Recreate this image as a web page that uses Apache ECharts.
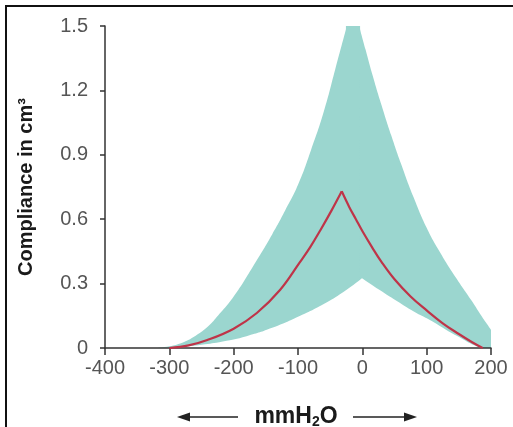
<!DOCTYPE html>
<html>
<head>
<meta charset="utf-8">
<script src="https://cdn.jsdelivr.net/npm/echarts@6/dist/echarts.min.js"></script>
<style>
html,body{margin:0;padding:0;background:#fff;}
#chart{width:513px;height:427px;}
</style>
</head>
<body>
<div id="chart"></div>
<script>
// Tick labels
var xTicks = [-400, -300, -200, -100, 0, 100, 200];
var yTicks = [0, 0.3, 0.6, 0.9, 1.2, 1.5];

// Upper boundary of the shaded range (rising side, flat top, falling side)
var upperLeftX = [-320, -300, -280, -263, -240, -226, -200, -170, -140, -120, -100, -80, -60, -42, -24];
var upperLeftY = [0, 0.008, 0.025, 0.05, 0.10, 0.145, 0.24, 0.38, 0.53, 0.64, 0.76, 0.92, 1.10, 1.30, 1.5];
var upperTopX = [-25.5, -3.5];
var upperTopY = [1.5, 1.5];
var upperRightX = [-5, 5, 15, 30, 45, 60, 80, 100, 120, 145, 170, 185, 200];
var upperRightY = [1.5, 1.39, 1.28, 1.13, 0.99, 0.86, 0.70, 0.56, 0.45, 0.33, 0.22, 0.15, 0.085];

// Lower boundary of the shaded range
var lowerLeftX = [-320, -280, -250, -217, -180, -139, -100, -60, -30, -0.5];
var lowerLeftY = [0, 0.006, 0.015, 0.03, 0.055, 0.095, 0.145, 0.205, 0.26, 0.325];
var lowerRightX = [-0.5, 27, 53, 80, 105, 130, 157, 175, 190, 200];
var lowerRightY = [0.325, 0.27, 0.22, 0.17, 0.13, 0.085, 0.04, 0.012, 0, 0];

// Mean compliance curve (left and right branches meet at the peak)
var meanLeftX = [-300, -270, -241, -200, -164, -128, -97, -81, -65, -48, -32];
var meanLeftY = [0, 0.012, 0.037, 0.09, 0.163, 0.27, 0.40, 0.47, 0.55, 0.64, 0.73];
var meanRightX = [-32, -20, -10, 0, 15, 30, 50, 75, 100, 125, 150, 170, 187];
var meanRightY = [0.73, 0.655, 0.60, 0.545, 0.47, 0.40, 0.32, 0.24, 0.175, 0.115, 0.065, 0.028, 0];

function pairs(xs, ys) { return xs.map(function (x, i) { return [x, ys[i]]; }); }

var chart = echarts.init(document.getElementById('chart'), null, {renderer: 'canvas'});
var axisColor = '#333';
var labelColor = '#555';
var teal = '#9bd6cf';
var red = '#bf3448';
var font = '"Liberation Sans", Arial, sans-serif';

function area(name, xs, ys, color, z) {
  return {
    type: 'line', name: name, z: z, smooth: 0.5, symbol: 'none', silent: true,
    data: pairs(xs, ys),
    lineStyle: {width: 0},
    areaStyle: {color: color, opacity: 1, origin: 'start'}
  };
}

var option = {
  animation: false,
  backgroundColor: '#fff',
  grid: {left: 105, right: 22, top: 26, bottom: 79, containLabel: false, outerBoundsMode: 'none'},
  xAxis: {
    type: 'value', min: -400, max: 200, interval: 100, z: 10,
    axisLine: {show: true, onZero: false, lineStyle: {color: axisColor, width: 1.5}},
    axisTick: {show: true, length: 7, lineStyle: {color: axisColor, width: 1.5}},
    splitLine: {show: false},
    axisLabel: {color: labelColor, fontSize: 20, fontFamily: font, margin: 10,
      formatter: function (v) { return xTicks.indexOf(v) >= 0 ? String(v) : ''; }}
  },
  yAxis: {
    type: 'value', min: 0, max: 1.5, interval: 0.3, z: 10,
    name: 'Compliance in cm\u00B3', nameLocation: 'middle', nameRotate: 90, nameGap: 69,
    nameTextStyle: {color: '#1a1a1a', fontSize: 20, fontWeight: 'bold', fontFamily: font},
    axisLine: {show: true, onZero: false, lineStyle: {color: axisColor, width: 1.5}},
    axisTick: {show: true, length: 5, lineStyle: {color: axisColor, width: 1.5}},
    splitLine: {show: false},
    axisLabel: {color: labelColor, fontSize: 20, fontFamily: font, margin: 17,
      formatter: function (v) {
        for (var i = 0; i < yTicks.length; i++) {
          if (Math.abs(yTicks[i] - v) < 1e-9) return v === 0 ? '0' : yTicks[i].toFixed(1);
        }
        return '';
      }}
  },
  series: [
    area('Range', upperLeftX, upperLeftY, teal, 1),
    area('Range', upperTopX, upperTopY, teal, 1),
    area('Range', upperRightX, upperRightY, teal, 1),
    area('Below range', lowerRightX, lowerRightY, '#ffffff', 2),
    area('Below range', lowerLeftX, lowerLeftY, '#ffffff', 2),
    {
      type: 'line', name: 'Mean', z: 11, smooth: 0.4, symbol: 'none',
      data: pairs(meanLeftX, meanLeftY),
      lineStyle: {color: red, width: 2.2}
    },
    {
      type: 'line', name: 'Mean', z: 11, smooth: 0.4, symbol: 'none',
      data: pairs(meanRightX, meanRightY),
      lineStyle: {color: red, width: 2.2}
    }
  ],
  graphic: [
    {type: 'rect', z: 100, shape: {x: 6, y: 6, width: 700, height: 700},
      style: {fill: null, stroke: '#111', lineWidth: 2}},
    {type: 'line', z: 100, shape: {x1: 186, y1: 417, x2: 238, y2: 417}, style: {stroke: '#222', lineWidth: 1.5}},
    {type: 'polygon', z: 100, shape: {points: [[177, 417], [190, 412.5], [190, 421.5]]}, style: {fill: '#222'}},
    {type: 'line', z: 100, shape: {x1: 353, y1: 417, x2: 408, y2: 417}, style: {stroke: '#222', lineWidth: 1.5}},
    {type: 'polygon', z: 100, shape: {points: [[417, 417], [404, 412.5], [404, 421.5]]}, style: {fill: '#222'}},
    {type: 'text', z: 100, x: 296, y: 417,
      style: {
        text: '{a|mmH}{s|2}{a|O}', align: 'center', verticalAlign: 'middle',
        rich: {
          a: {fontSize: 23, fontWeight: 'bold', fontFamily: font, fill: '#1a1a1a', verticalAlign: 'middle'},
          s: {fontSize: 14, fontWeight: 'bold', fontFamily: font, fill: '#1a1a1a', padding: [10, 0, 0, 0]}
        }
      }}
  ]
};
chart.setOption(option);
</script>
</body>
</html>
